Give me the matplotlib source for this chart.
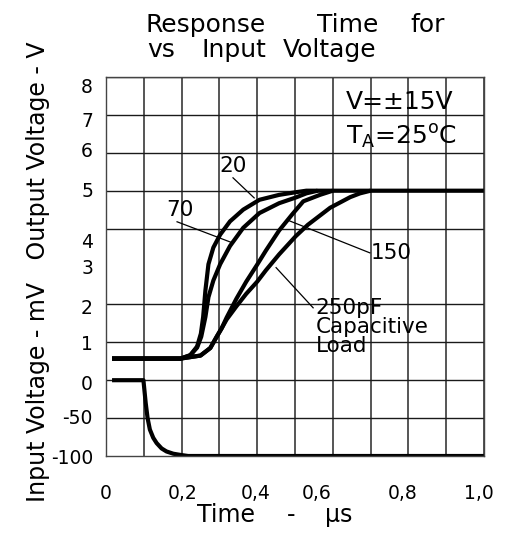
import matplotlib
matplotlib.use("Agg")
import matplotlib.pyplot as plt

plt.rcParams['font.family'] = ['DejaVu Sans']
plt.rcParams['mathtext.fontset'] = 'dejavusans'

# ---------------- data ----------------
# input step (mV), time in microseconds
t_in = [0.016, 0.099, 0.102, 0.105, 0.110, 0.116, 0.125, 0.134, 0.147, 0.160, 0.178, 0.196, 0.217, 1.0]
v_in_mV = [0, 0, -15, -30, -50, -65, -76, -83, -90, -94, -97, -98.5, -100, -100]

# output responses (V) for several capacitive loads
t_20 = [0.016, 0.197, 0.223, 0.241, 0.251, 0.257, 0.263, 0.271, 0.284, 0.302, 0.328, 0.363, 0.406, 0.458, 0.502, 0.53, 1.0]
v_20 = [0.57, 0.57, 0.66, 0.89, 1.23, 1.67, 2.37, 3.06, 3.5, 3.84, 4.19, 4.5, 4.76, 4.89, 4.96, 5.0, 5.0]

t_70 = [0.016, 0.197, 0.223, 0.241, 0.252, 0.263, 0.271, 0.284, 0.302, 0.328, 0.363, 0.406, 0.458, 0.502, 0.53, 0.56]
v_70 = [0.57, 0.57, 0.66, 0.86, 1.15, 1.67, 2.19, 2.63, 3.06, 3.54, 4.02, 4.41, 4.67, 4.82, 4.93, 5.0]

t_150 = [0.016, 0.197, 0.25, 0.276, 0.293, 0.306, 0.319, 0.345, 0.371, 0.40, 0.423, 0.458, 0.493, 0.522, 0.566, 0.60]
v_150 = [0.57, 0.57, 0.65, 0.85, 1.15, 1.37, 1.65, 2.15, 2.6, 3.05, 3.42, 3.95, 4.38, 4.72, 4.89, 5.0]

t_250 = [0.016, 0.197, 0.25, 0.276, 0.293, 0.306, 0.319, 0.345, 0.371, 0.40, 0.423, 0.458, 0.502, 0.534, 0.593, 0.646, 0.672, 0.70]
v_250 = [0.57, 0.57, 0.65, 0.85, 1.15, 1.37, 1.6, 1.95, 2.28, 2.6, 2.9, 3.32, 3.8, 4.1, 4.55, 4.83, 4.93, 5.0]

x_tick_pos = [0.0, 0.203, 0.397, 0.558, 0.786, 0.987]
x_tick_labels = ['0', '0,2', '0,4', '0,6', '0,8', '1,0']
y_tick_pos = [-2.0, -0.96, -0.07, 0.99, 1.94, 3.0, 3.68, 5.03, 6.08, 6.89, 7.78]
y_tick_labels = ['-100', '-50', '0', '1', '2', '3', '4', '5', '6', '7', '8']

MV_PER_ROW = 50.0  # input scale: one grid row = 50 mV

W, H = 521, 540
fig = plt.figure(figsize=(W / 100, H / 100), dpi=100)
L, R, T, B = 106, 484, 77, 456
ax = fig.add_axes([L / W, 1 - B / H, (R - L) / W, (B - T) / H])
ax.set_xlim(0, 1)
ax.set_ylim(-2, 8)

# grid via minor ticks
ax.set_xticks([i / 10 for i in range(11)], minor=True)
ax.set_yticks(list(range(-2, 9)), minor=True)
ax.grid(False)
ax.xaxis.grid(True, which='minor', color='#555555', lw=1.4)
ax.yaxis.grid(True, which='minor', color='#1a1a1a', lw=1.0)
ax.set_axisbelow(True)

ax.set_xticks(x_tick_pos)
ax.set_xticklabels(x_tick_labels)
ax.set_yticks(y_tick_pos)
ax.set_yticklabels(y_tick_labels)
ax.tick_params(which='both', length=0)
ax.tick_params(axis='x', pad=20, labelsize=13.5)
ax.tick_params(axis='y', pad=9.4, labelsize=13.5)
for s in ax.spines.values():
    s.set_color('#444444')
    s.set_linewidth(1.0)

lw = 3.0
ax.plot(t_in, [v / MV_PER_ROW for v in v_in_mV], color='black', lw=lw, solid_capstyle='butt')
for tt, vv in [(t_20, v_20), (t_70, v_70), (t_150, v_150), (t_250, v_250)]:
    ax.plot(tt, vv, color='black', lw=lw, solid_joinstyle='round', solid_capstyle='butt')

# leader lines and labels
ax.plot([0.336, 0.392], [5.34, 4.81], color='black', lw=0.9)
ax.text(0.337, 5.65, '20', ha='center', va='center', fontsize=15.5)
ax.plot([0.188, 0.333], [4.18, 3.63], color='black', lw=0.9)
ax.text(0.196, 4.5, '70', ha='center', va='center', fontsize=15.5)
ax.plot([0.698, 0.479], [3.36, 4.23], color='black', lw=0.9)
ax.text(0.700, 3.35, '150', ha='left', va='center', fontsize=15.5)
ax.plot([0.548, 0.45], [1.91, 2.97], color='black', lw=0.9)
ax.text(0.555, 2.17, '250pF\nCapacitive\nLoad', ha='left', va='top', fontsize=15.5, linespacing=0.95)

ax.text(0.778, 7.35, 'V=±15V', ha='center', va='center', fontsize=18)
ax.text(0.782, 6.42, r'T$_{\mathrm{A}}$=25$^{\mathrm{o}}$C', ha='center', va='center', fontsize=18)

# title words (figure pixel positions)
def ftext(x, y, s, **kw):
    fig.text(x / W, 1 - y / H, s, **kw)

for x, s in [(145, 'Response'), (317, 'Time'), (410, 'for')]:
    ftext(x, 32, s, ha='left', va='baseline', fontsize=18)
for x, s in [(147, 'vs'), (202, 'Input'), (283, 'Voltage')]:
    ftext(x, 57, s, ha='left', va='baseline', fontsize=18)

for x, s in [(197, 'Time'), (287, '-'), (325, 'µs')]:
    ftext(x, 522, s, ha='left', va='baseline', fontsize=17)

ftext(38, 272, 'Input Voltage - mV   Output Voltage - V', rotation=90,
      ha='center', va='center', fontsize=17)

fig.savefig('out.png', dpi=100)
